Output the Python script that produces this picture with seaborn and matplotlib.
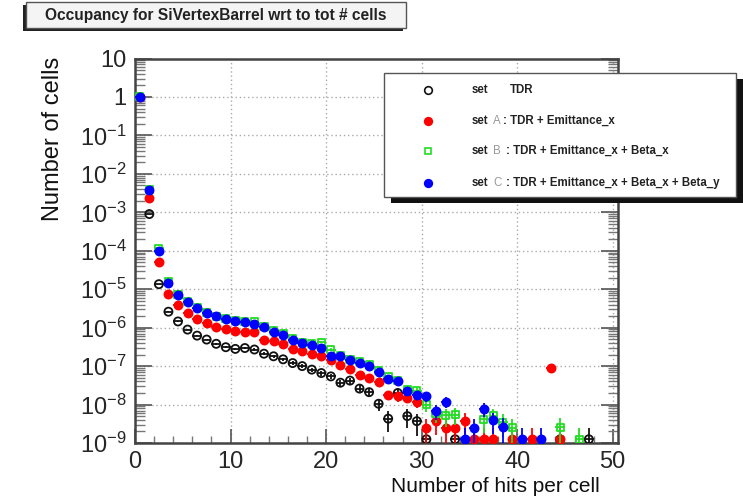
import numpy as np
import matplotlib
matplotlib.use("Agg")
import matplotlib.pyplot as plt
import seaborn as sns
from matplotlib.patches import Rectangle
from matplotlib.lines import Line2D
from matplotlib.ticker import FixedLocator, FixedFormatter, NullFormatter, MultipleLocator

# ---------------- data ----------------
# bin index (hits per cell); points drawn at bin centre
tdr_bins = [0, 1, 2, 3, 4, 5, 6, 7, 8, 9, 10, 11, 12, 13, 14, 15, 16, 17, 18, 19,
            20, 21, 22, 23, 24, 25, 26, 27, 28, 29, 30, 33, 44, 47]
tdr_vals = [1.0, 9e-4, 1.35e-5, 2.6e-6, 1.45e-6, 8.9e-7, 6.2e-7, 4.9e-7, 3.8e-7, 3.1e-7,
            2.8e-7, 2.95e-7, 2.7e-7, 2.1e-7, 1.8e-7, 1.5e-7, 1.2e-7, 1.0e-7, 8.1e-8, 6.6e-8,
            5.4e-8, 3.7e-8, 4.2e-8, 2.6e-8, 2.1e-8, 1.05e-8, 4.3e-9, 2.0e-8, 5.0e-9, 3.7e-9,
            1.25e-9, 1.25e-9, 1.25e-9, 1.25e-9]

seta_bins = [0, 1, 2, 3, 4, 5, 6, 7, 8, 9, 10, 11, 12, 13, 14, 15, 16, 17, 18, 19,
             20, 21, 22, 23, 24, 25, 26, 27, 28, 29, 30, 31, 32, 33, 34, 35, 36, 37, 39,
             41, 43, 44]
seta_vals = [1.0, 2.3e-3, 5.0e-5, 7.6e-6, 3.8e-6, 2.4e-6, 1.7e-6, 1.3e-6, 1.07e-6, 9.3e-7,
             8.3e-7, 7.6e-7, 7.6e-7, 4.9e-7, 4.4e-7, 3.8e-7, 2.8e-7, 2.45e-7, 2.1e-7, 1.8e-7,
             1.4e-7, 1.1e-7, 8.5e-8, 6.0e-8, 4.9e-8, 3.8e-8, 1.8e-8, 1.65e-8, 1.5e-8, 1.2e-8,
             2.5e-9, 3.75e-9, 2.5e-9, 2.5e-9, 3.75e-9, 1.25e-9, 1.25e-9, 1.25e-9, 1.25e-9,
             1.25e-9, 9.0e-8, 1.25e-9]

setb_bins = [0, 1, 2, 3, 4, 5, 6, 7, 8, 9, 10, 11, 12, 13, 14, 15, 16, 17, 18, 19,
             20, 21, 22, 23, 24, 25, 26, 27, 28, 29, 30, 31, 32, 33, 36, 37, 38, 39, 44, 46]
setb_vals = [1.0, 4.0e-3, 1.15e-4, 1.6e-5, 7.2e-6, 4.8e-6, 3.3e-6, 2.5e-6, 2.0e-6, 1.75e-6,
             1.5e-6, 1.42e-6, 1.45e-6, 1.1e-6, 8.3e-7, 6.9e-7, 5.2e-7, 4.2e-7, 3.8e-7, 4.2e-7,
             2.7e-7, 1.9e-7, 1.5e-7, 1.3e-7, 1.1e-7, 7.5e-8, 5.2e-8, 4.3e-8, 2.45e-8, 2.25e-8,
             1.0e-8, 6.0e-9, 5.2e-9, 5.5e-9, 4.1e-9, 5.1e-9, 3.5e-9, 2.5e-9, 2.6e-9, 1.25e-9]

setc_bins = [0, 1, 2, 3, 4, 5, 6, 7, 8, 9, 10, 11, 12, 13, 14, 15, 16, 17, 18, 19,
             20, 21, 22, 23, 24, 25, 26, 27, 28, 29, 30, 31, 32, 34, 35, 36, 37, 38, 40, 42]
setc_vals = [1.0, 3.8e-3, 1.0e-4, 1.45e-5, 6.9e-6, 4.6e-6, 3.2e-6, 2.4e-6, 1.95e-6, 1.7e-6,
             1.45e-6, 1.38e-6, 1.26e-6, 1.05e-6, 7.9e-7, 6.6e-7, 4.9e-7, 4.0e-7, 3.6e-7, 2.95e-7,
             1.85e-7, 1.8e-7, 1.4e-7, 1.2e-7, 1.02e-7, 7.0e-8, 4.5e-8, 4.1e-8, 2.2e-8, 1.8e-8,
             1.65e-8, 6.8e-9, 1.2e-8, 1.25e-9, 2.5e-9, 7.8e-9, 3.9e-9, 2.6e-9, 1.25e-9, 1.25e-9]

one_cell = 1.25e-9          # normalised value of a single entry (Poisson errors)

legend_letters = ["", "A", "B", "C"]
legend_rest = ["TDR", ": TDR + Emittance_x", ": TDR + Emittance_x + Beta_x",
               ": TDR + Emittance_x + Beta_x + Beta_y"]
y_tick_values = [1e-9, 1e-8, 1e-7, 1e-6, 1e-5, 1e-4, 1e-3, 1e-2, 1e-1, 1, 10]
y_tick_labels = [r"$\mathregular{10^{-9}}$", r"$\mathregular{10^{-8}}$",
                 r"$\mathregular{10^{-7}}$", r"$\mathregular{10^{-6}}$",
                 r"$\mathregular{10^{-5}}$", r"$\mathregular{10^{-4}}$",
                 r"$\mathregular{10^{-3}}$", r"$\mathregular{10^{-2}}$",
                 r"$\mathregular{10^{-1}}$", "1", "10"]
x_tick_values = [0, 10, 20, 30, 40, 50]

# ---------------- styling ----------------
sns.set_style("white")
plt.rcParams["font.family"] = ["Liberation Sans", "DejaVu Sans"]

W, H = 743, 501
fig = plt.figure(figsize=(W / 100, H / 100), dpi=100)
fig.patch.set_facecolor("white")


def fx(px):
    return px / W


def fy(py):
    return 1 - py / H


ax_l, ax_r, ax_t, ax_b = 135, 617.5, 58.5, 443
ax = fig.add_axes([fx(ax_l), fy(ax_b), (ax_r - ax_l) / W, (ax_b - ax_t) / H])
ax.set_facecolor("white")

styles = [
    dict(bins=tdr_bins, vals=tdr_vals, color="#111111", marker="o", open=True, z=3, s=34),
    dict(bins=seta_bins, vals=seta_vals, color="#ff0000", marker="o", open=False, z=4, s=34),
    dict(bins=setb_bins, vals=setb_vals, color="#22dd22", marker="s", open=True, z=5, s=26),
    dict(bins=setc_bins, vals=setc_vals, color="#0000ff", marker="o", open=False, z=6, s=34),
]

for st in styles:
    x = np.asarray(st["bins"], dtype=float) + 0.5
    y = np.asarray(st["vals"], dtype=float)
    err = np.sqrt(y * one_cell)
    lo = np.minimum(err, y * 0.9999)
    ax.errorbar(x, y, yerr=[lo, err], xerr=0.5, fmt="none", ecolor=st["color"],
                elinewidth=1.3, capsize=0, zorder=st["z"])
    sns.scatterplot(x=x, y=y, ax=ax, marker=st["marker"], s=st["s"], color=st["color"],
                    edgecolor=st["color"], linewidth=1.3, zorder=st["z"] + 0.5,
                    legend=False)
    coll = ax.collections[-1]
    if st["open"]:
        coll.set_facecolor("none")
    coll.set_edgecolor(st["color"])

ax.set_yscale("log")
ax.set_ylim(1e-9, 10)
ax.set_xlim(0, 50.5)

ax.yaxis.set_major_locator(FixedLocator(y_tick_values))
ax.yaxis.set_major_formatter(FixedFormatter(y_tick_labels))
ax.yaxis.set_minor_locator(matplotlib.ticker.LogLocator(base=10, subs=np.arange(2, 10), numticks=20))
ax.yaxis.set_minor_formatter(NullFormatter())
ax.xaxis.set_major_locator(FixedLocator(x_tick_values))
ax.xaxis.set_minor_locator(MultipleLocator(2))

ax.tick_params(axis="y", which="major", direction="in", length=12, width=1.2,
               color="#555555", left=True, right=True, labelsize=17, pad=6)
ax.tick_params(axis="y", which="minor", direction="in", length=7, width=1.0,
               color="#777777", left=True, right=True)
ax.tick_params(axis="x", which="major", direction="in", length=10, width=1.2,
               color="#555555", bottom=True, top=False, labelsize=17, pad=6)
ax.tick_params(axis="x", which="minor", direction="in", length=5, width=1.0,
               color="#777777", bottom=True, top=False)

ax.grid(True, which="major", linestyle=(0, (1, 2)), color="#aaaaaa", linewidth=1.0)
for side, sp in ax.spines.items():
    sp.set_visible(True)
    sp.set_color("#444444")
    sp.set_linewidth(1.8)

# axis titles (ROOT style positions)
fig.text(fx(53), fy(57), "Number of cells", rotation=90, ha="center", va="top",
         fontsize=17, color="#111111")
fig.text(fx(600), fy(487), "Number of hits per cell", ha="right", va="center",
         fontsize=15, color="#111111")

# title pave with shadow
fig.add_artist(Rectangle((fx(23), fy(31)), (403 - 23) / W, (31 - 5) / H,
                         transform=fig.transFigure, fc="#222222", ec="none", zorder=10))
fig.add_artist(Rectangle((fx(26), fy(28)), (406 - 26) / W, (28 - 2) / H,
                         transform=fig.transFigure, fc="#f4f4f4", ec="#555555", lw=1.0,
                         zorder=11))
fig.text(fx(216), fy(15.5), "Occupancy for SiVertexBarrel wrt to tot # cells",
         ha="center", va="center", fontsize=11.2, fontweight="bold", color="#222222",
         zorder=12)

# legend pave with shadow
fig.add_artist(Rectangle((fx(391), fy(203)), (745 - 391) / W, (203 - 79) / H,
                         transform=fig.transFigure, fc="#111111", ec="none", zorder=10))
fig.add_artist(Rectangle((fx(384), fy(197)), (736 - 384) / W, (197 - 73) / H,
                         transform=fig.transFigure, fc="white", ec="#555555", lw=1.0,
                         zorder=11))
rows_y = [90, 121, 151, 183]
letter_x = [0, 493, 493, 493]
rest_x = [510, 503, 506, 506]
for i, st in enumerate(styles):
    yy = fy(rows_y[i])
    mk = Line2D([fx(428)], [yy], transform=fig.transFigure, marker=st["marker"],
                markersize=5.5 if st["marker"] == "o" else 4.8, markeredgewidth=1.2,
                markeredgecolor=st["color"],
                markerfacecolor="none" if st["open"] else st["color"], linestyle="none",
                zorder=12)
    fig.add_artist(mk)
    fig.text(fx(472), yy, "set", ha="left", va="center", fontsize=8.3,
             fontweight="bold", color="#222222", zorder=12)
    if legend_letters[i]:
        fig.text(fx(letter_x[i]), yy, legend_letters[i], ha="left", va="center",
                 fontsize=8.3, color="#999999", zorder=12)
    fig.text(fx(rest_x[i]), yy, legend_rest[i], ha="left", va="center", fontsize=8.3,
             fontweight="bold", color="#222222", zorder=12)

fig.savefig("out.png", dpi=100)
